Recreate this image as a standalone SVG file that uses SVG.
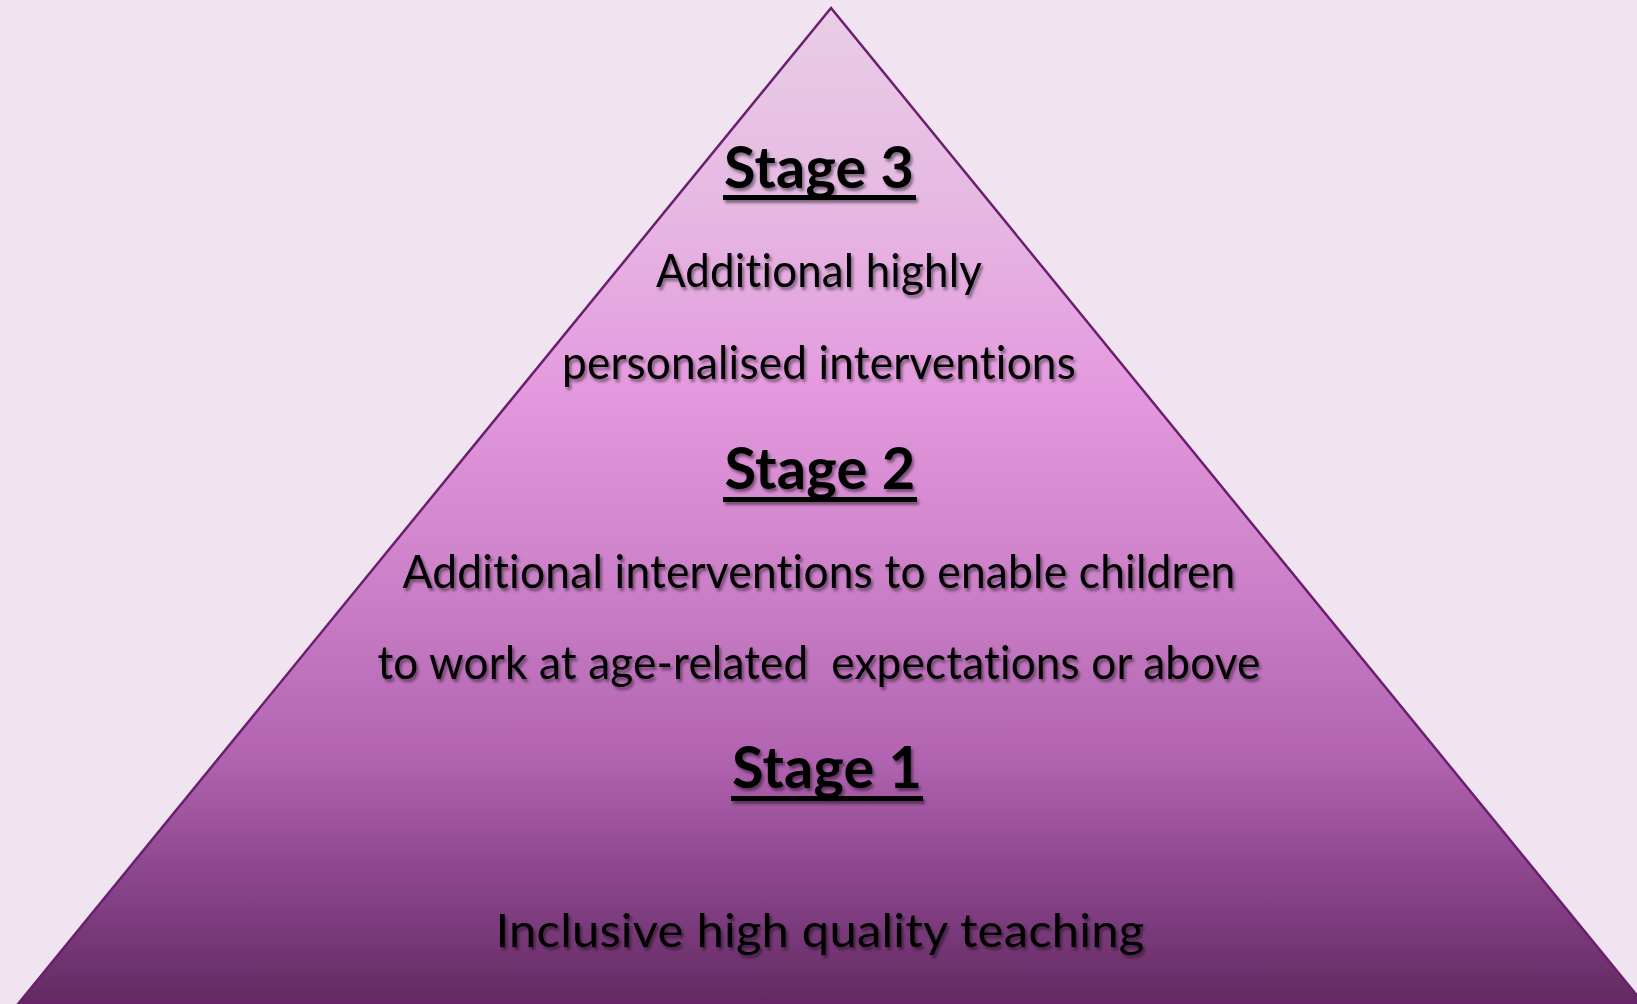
<svg xmlns="http://www.w3.org/2000/svg" width="1637" height="1004" viewBox="0 0 1637 1004">
<defs>
<linearGradient id="pyr" x1="0" y1="8" x2="0" y2="1004" gradientUnits="userSpaceOnUse">
<stop offset="0" stop-color="#e9cde6"/>
<stop offset="0.2" stop-color="#e6b8e3"/>
<stop offset="0.38" stop-color="#e49ade"/>
<stop offset="0.6" stop-color="#c97dc6"/>
<stop offset="0.75" stop-color="#b264b0"/>
<stop offset="0.86" stop-color="#8f4890"/>
<stop offset="1" stop-color="#622a61"/>
</linearGradient>
<filter id="sh" x="-10%" y="-30%" width="120%" height="160%">
<feDropShadow dx="2" dy="3" stdDeviation="1.6" flood-color="#000" flood-opacity="0.45"/>
</filter>
</defs>
<style>
.t{font-family:Lato,"Open Sans","Liberation Sans",sans-serif;fill:#000;text-anchor:middle;font-variant-ligatures:none;font-feature-settings:"liga" 0,"clig" 0,"dlig" 0;letter-spacing:0.2px}
.h{font-weight:bold;font-size:58px}
.b{font-size:47px}
.u{fill:#000}
</style>
<rect width="1637" height="1004" fill="#f0e4f1"/>
<g id="pyramid">
<polygon points="831,8 18,1004 1644,1004" fill="url(#pyr)" stroke="#6b1f6f" stroke-width="2.5"/>
</g>
<g id="connectors"></g>
<g id="stage3" filter="url(#sh)">
<text class="t h" x="819" y="188" textLength="190" lengthAdjust="spacingAndGlyphs">Stage 3</text>
<rect class="u" x="723" y="195" width="193" height="5"/>
<text class="t b" x="819" y="287" textLength="326" lengthAdjust="spacingAndGlyphs">Additional highly</text>
<text class="t b" x="819" y="379" textLength="514" lengthAdjust="spacingAndGlyphs">personalised interventions</text>
</g>
<g id="stage2" filter="url(#sh)">
<text class="t h" x="820" y="489" textLength="191" lengthAdjust="spacingAndGlyphs">Stage 2</text>
<rect class="u" x="723" y="497" width="194" height="5"/>
<text class="t b" x="819" y="588" textLength="833" lengthAdjust="spacingAndGlyphs">Additional interventions to enable children</text>
<text class="t b" x="819" y="679" textLength="883" lengthAdjust="spacingAndGlyphs" xml:space="preserve">to work at age-related  expectations or above</text>
</g>
<g id="stage1" filter="url(#sh)">
<text class="t h" x="827" y="788" textLength="190" lengthAdjust="spacingAndGlyphs">Stage 1</text>
<rect class="u" x="731" y="796" width="192" height="5"/>
<text class="t b" x="820" y="947" textLength="649" lengthAdjust="spacingAndGlyphs">Inclusive high quality teaching</text>
</g>
</svg>
